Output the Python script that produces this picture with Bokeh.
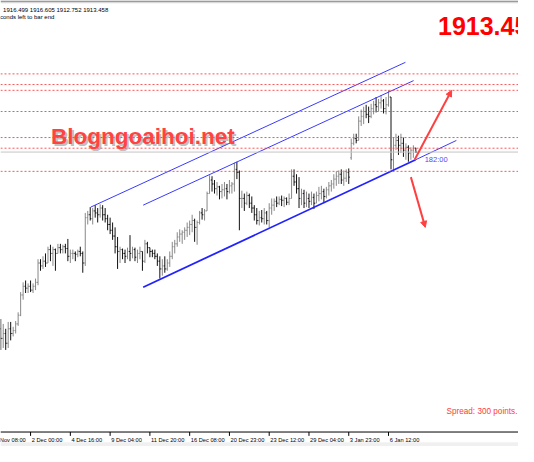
from bokeh.plotting import figure
from bokeh.models import Range1d, Span, Label, Arrow, NormalHead, ColumnDataSource, BoxAnnotation
from bokeh.embed import file_html
from bokeh.resources import INLINE

# ---------------- data (XAUUSD, H4) ----------------
bar_number = list(range(4, 172))   # bar 0 = 27 Nov 08:00, 16 bars between time labels

opens = [
    1779.1, 1771.8, 1775.5, 1768.1, 1779.1, 1775.5, 1777.7, 1782.8, 1789.4, 1804.8,
    1811.4, 1810.0, 1811.4, 1808.5, 1811.4, 1814.4, 1829.1, 1826.9, 1830.5, 1829.1,
    1839.3, 1836.4, 1839.3, 1836.4, 1840.8, 1839.3, 1841.5, 1840.1, 1834.2, 1836.4,
    1836.4, 1835.7, 1837.9, 1836.4, 1829.1, 1863.6, 1865.8, 1862.8, 1868.7, 1867.2,
    1865.8, 1870.9, 1865.8, 1862.8, 1858.4, 1854.0, 1849.6, 1841.5, 1837.9, 1839.3,
    1836.4, 1834.2, 1837.9, 1836.4, 1839.3, 1833.5, 1836.4, 1837.9, 1830.5, 1843.7,
    1840.8, 1837.9, 1836.4, 1834.2, 1830.5, 1824.6, 1826.9, 1824.6, 1829.1, 1834.2,
    1841.5, 1843.7, 1848.9, 1851.1, 1852.5, 1854.0, 1856.2, 1858.4, 1861.4, 1856.2,
    1859.9, 1867.2, 1865.8, 1868.7, 1881.9, 1892.2, 1889.2, 1885.6, 1887.0, 1883.4,
    1884.8, 1885.6, 1883.4, 1887.8, 1889.2, 1900.3, 1898.1, 1878.2, 1878.2, 1874.6,
    1880.4, 1874.6, 1870.9, 1865.8, 1861.4, 1863.6, 1862.8, 1867.2, 1861.4, 1870.9,
    1873.1, 1876.0, 1874.6, 1877.5, 1876.8, 1878.2, 1875.3, 1878.2, 1895.1, 1890.7,
    1885.6, 1878.2, 1881.9, 1874.6, 1878.2, 1876.0, 1879.0, 1874.6, 1880.4, 1881.9,
    1883.4, 1879.7, 1884.8, 1887.8, 1889.2, 1892.9, 1895.1, 1896.6, 1892.2, 1893.6,
    1898.1, 1909.1, 1920.1, 1923.7, 1922.3, 1937.0, 1940.6, 1944.3, 1942.1, 1940.6,
    1946.5, 1949.4, 1948.0, 1950.9, 1952.4, 1946.5, 1949.4, 1955.3, 1907.6, 1918.6,
    1922.3, 1918.6, 1920.1, 1914.9, 1917.1, 1912.7, 1914.9, 1916.499,
]
highs = [
    1786.5, 1782.8, 1779.1, 1784.3, 1784.3, 1780.6, 1785.0, 1791.6, 1807.0, 1814.4,
    1815.8, 1813.6, 1815.8, 1813.6, 1817.3, 1832.0, 1832.0, 1834.2, 1836.4, 1841.5,
    1843.0, 1841.5, 1840.1, 1843.7, 1843.7, 1843.0, 1843.7, 1847.4, 1839.3, 1839.3,
    1837.9, 1839.3, 1841.5, 1837.9, 1867.2, 1868.7, 1871.6, 1870.9, 1873.1, 1870.9,
    1873.8, 1873.1, 1870.9, 1865.8, 1863.6, 1859.9, 1856.2, 1848.9, 1841.5, 1840.1,
    1839.3, 1840.8, 1850.3, 1841.5, 1840.8, 1839.3, 1841.5, 1837.9, 1846.7, 1845.2,
    1840.8, 1839.3, 1839.3, 1836.4, 1834.2, 1832.0, 1834.2, 1832.0, 1837.9, 1845.2,
    1846.7, 1852.5, 1854.7, 1854.0, 1856.2, 1859.9, 1861.4, 1865.8, 1862.8, 1861.4,
    1868.7, 1870.9, 1870.2, 1883.4, 1895.8, 1895.1, 1892.2, 1890.7, 1887.8, 1889.2,
    1890.7, 1889.2, 1892.2, 1890.7, 1905.4, 1906.1, 1899.5, 1884.1, 1881.9, 1883.4,
    1881.9, 1879.7, 1873.1, 1870.9, 1868.7, 1869.4, 1870.9, 1868.7, 1874.6, 1878.2,
    1878.2, 1879.7, 1879.7, 1880.4, 1879.7, 1879.0, 1881.9, 1900.3, 1900.3, 1896.6,
    1894.4, 1885.6, 1884.8, 1883.4, 1881.9, 1883.4, 1881.9, 1883.4, 1887.0, 1887.8,
    1885.6, 1887.0, 1890.7, 1892.2, 1896.6, 1898.8, 1899.5, 1900.3, 1899.5, 1900.3,
    1901.0, 1923.7, 1927.4, 1927.4, 1940.6, 1945.8, 1948.0, 1949.4, 1948.0, 1950.2,
    1952.4, 1955.3, 1953.8, 1956.8, 1953.8, 1955.3, 1960.4, 1955.3, 1924.5, 1927.4,
    1925.9, 1927.4, 1924.5, 1920.1, 1918.6, 1917.1, 1918.6, 1916.605,
]
lows = [
    1763.0, 1764.5, 1763.0, 1764.5, 1770.3, 1773.3, 1775.5, 1781.3, 1788.7, 1801.2,
    1806.3, 1806.3, 1807.0, 1806.3, 1808.5, 1812.2, 1823.2, 1824.6, 1826.1, 1829.1,
    1830.5, 1826.9, 1823.2, 1836.4, 1836.4, 1836.4, 1836.4, 1830.5, 1829.1, 1832.0,
    1830.5, 1833.5, 1834.2, 1821.7, 1826.9, 1858.4, 1861.4, 1858.4, 1863.6, 1859.9,
    1863.6, 1861.4, 1859.9, 1854.0, 1851.1, 1846.7, 1836.4, 1824.6, 1829.1, 1832.0,
    1829.1, 1832.0, 1830.5, 1832.7, 1830.5, 1829.1, 1832.0, 1823.2, 1829.1, 1836.4,
    1833.5, 1833.5, 1832.0, 1826.9, 1817.3, 1819.5, 1821.7, 1823.2, 1826.1, 1832.0,
    1836.4, 1841.5, 1845.2, 1843.7, 1846.7, 1848.9, 1850.3, 1852.5, 1845.2, 1843.0,
    1858.4, 1862.1, 1861.4, 1868.7, 1881.9, 1883.4, 1881.9, 1880.4, 1877.5, 1878.2,
    1879.7, 1877.5, 1881.9, 1881.9, 1883.4, 1892.9, 1854.0, 1870.9, 1868.7, 1873.1,
    1870.9, 1867.2, 1861.4, 1858.4, 1857.7, 1859.9, 1858.4, 1858.4, 1856.2, 1865.8,
    1868.7, 1871.6, 1873.1, 1872.4, 1871.6, 1873.1, 1873.1, 1878.2, 1887.8, 1881.9,
    1870.9, 1873.1, 1870.9, 1871.6, 1870.9, 1873.1, 1870.2, 1874.6, 1876.0, 1877.5,
    1874.6, 1878.2, 1880.4, 1883.4, 1885.6, 1887.8, 1889.2, 1889.2, 1887.8, 1890.7,
    1889.2, 1907.6, 1918.6, 1920.1, 1922.3, 1933.3, 1934.7, 1939.2, 1935.5, 1939.2,
    1942.1, 1943.6, 1944.3, 1946.5, 1942.8, 1942.1, 1948.0, 1900.3, 1898.8, 1914.9,
    1911.3, 1912.7, 1909.8, 1907.6, 1906.1, 1907.6, 1909.1, 1912.752,
]
closes = [
    1771.8, 1775.5, 1768.1, 1779.1, 1775.5, 1777.7, 1782.8, 1789.4, 1804.8, 1811.4,
    1810.0, 1811.4, 1808.5, 1811.4, 1814.4, 1829.1, 1826.9, 1830.5, 1829.1, 1839.3,
    1836.4, 1839.3, 1836.4, 1840.8, 1839.3, 1841.5, 1840.1, 1834.2, 1836.4, 1836.4,
    1835.7, 1837.9, 1836.4, 1829.1, 1863.6, 1865.8, 1862.8, 1868.7, 1867.2, 1865.8,
    1870.9, 1865.8, 1862.8, 1858.4, 1854.0, 1849.6, 1841.5, 1837.9, 1839.3, 1836.4,
    1834.2, 1837.9, 1836.4, 1839.3, 1833.5, 1836.4, 1837.9, 1830.5, 1843.7, 1840.8,
    1837.9, 1836.4, 1834.2, 1830.5, 1824.6, 1826.9, 1824.6, 1829.1, 1834.2, 1841.5,
    1843.7, 1848.9, 1851.1, 1852.5, 1854.0, 1856.2, 1858.4, 1861.4, 1856.2, 1859.9,
    1867.2, 1865.8, 1868.7, 1881.9, 1892.2, 1889.2, 1885.6, 1887.0, 1883.4, 1884.8,
    1885.6, 1883.4, 1887.8, 1889.2, 1900.3, 1898.1, 1878.2, 1878.2, 1874.6, 1880.4,
    1874.6, 1870.9, 1865.8, 1861.4, 1863.6, 1862.8, 1867.2, 1861.4, 1870.9, 1873.1,
    1876.0, 1874.6, 1877.5, 1876.8, 1878.2, 1875.3, 1878.2, 1895.1, 1890.7, 1885.6,
    1878.2, 1881.9, 1874.6, 1878.2, 1876.0, 1879.0, 1874.6, 1880.4, 1881.9, 1883.4,
    1879.7, 1884.8, 1887.8, 1889.2, 1892.9, 1895.1, 1896.6, 1892.2, 1893.6, 1898.1,
    1894.4, 1920.1, 1923.7, 1922.3, 1937.0, 1940.6, 1944.3, 1942.1, 1940.6, 1946.5,
    1949.4, 1948.0, 1950.9, 1952.4, 1946.5, 1949.4, 1955.3, 1907.6, 1918.6, 1922.3,
    1918.6, 1920.1, 1914.9, 1917.1, 1912.7, 1914.9, 1916.499, 1913.458,
]
assert len(opens) == len(highs) == len(lows) == len(closes) == len(bar_number), \
    (len(opens), len(highs), len(lows), len(closes), len(bar_number))

level_prices = [1972.9, 1964.8, 1960.4, 1944.3, 1924.5, 1916.4, 1898.8]

upper_outer_bars, upper_outer_prices = [40.2, 166.8], [1871.6, 1981.7]
upper_inner_bars, upper_inner_prices = [61.3, 170.1], [1873.1, 1967.8]
lower_bars, lower_prices = [61.3, 170.9], [1810.7, 1907.6]
lower_ext_bars, lower_ext_prices = [170.9, 187.3], [1907.6, 1922.3]

arrow_up_bars, arrow_up_prices = [170.5, 185.4], [1907.6, 1960.4]
arrow_down_bars, arrow_down_prices = [169.0, 174.8], [1894.4, 1856.2]

label_bars = [0, 16, 32, 48, 64, 80, 96, 112, 128, 144, 160]
label_texts = ["27 Nov 08:00", "2 Dec 00:00", "4 Dec 16:00", "9 Dec 04:00", "11 Dec 20:00",
               "16 Dec 08:00", "20 Dec 23:00", "23 Dec 12:00", "29 Dec 04:00",
               "3 Jan 23:00", "6 Jan 12:00"]

spread_points = 300
countdown = "182:00"
watermark = "Blogngoaihoi.net"

# ---------------- layout helpers (reference pixel -> data) ----------------
def kx(px):
    return (px + 10) / 2.5625

def py(px):
    return 2028.7 - 0.734 * px

FONT = "Liberation Sans"

p = figure(width=518, height=446, output_backend="svg", toolbar_location=None,
           x_range=Range1d(kx(0), kx(534)), y_range=Range1d(py(462), py(0)),
           x_axis_location=None, y_axis_location=None,
           min_border_left=0, min_border_right=0, min_border_top=0, min_border_bottom=0)
p.xgrid.visible = False
p.ygrid.visible = False
p.outline_line_color = None
p.background_fill_color = "white"
p.border_fill_color = "white"

# top border
p.add_layout(Span(location=py(0.6), dimension="width", line_color="#7a7a7a", line_width=1.2))
p.add_layout(Span(location=py(2.3), dimension="width", line_color="#cfcfcf", line_width=1))

# level lines
for lv in level_prices:
    p.add_layout(Span(location=lv, dimension="width", line_color="#ff3535",
                      line_dash="2 2", line_width=1, line_alpha=0.85))
# current price line
p.add_layout(Span(location=closes[-1], dimension="width", line_color="#c4c4c4", line_width=1))

# OHLC bars
colors = ["#888888" if c >= o else "#111111" for o, c in zip(opens, closes)]
src = ColumnDataSource(dict(
    x=bar_number, xl=[b - 0.42 for b in bar_number], xr=[b + 0.42 for b in bar_number],
    o=opens, h=highs, l=lows, c=closes, color=colors))
p.segment(x0="x", y0="l", x1="x", y1="h", line_color="color", line_width=1, source=src)
p.segment(x0="xl", y0="o", x1="x", y1="o", line_color="color", line_width=1, source=src)
p.segment(x0="x", y0="c", x1="xr", y1="c", line_color="color", line_width=1, source=src)

# channel lines
p.line(upper_outer_bars, upper_outer_prices, line_color="#3a3aff", line_width=1)
p.line(upper_inner_bars, upper_inner_prices, line_color="#3a3aff", line_width=1)
p.line(lower_bars, lower_prices, line_color="#2222ff", line_width=1.8)
p.line(lower_ext_bars, lower_ext_prices, line_color="#3a3aff", line_width=1)

# arrows
for xs, ys in [(arrow_up_bars, arrow_up_prices), (arrow_down_bars, arrow_down_prices)]:
    p.add_layout(Arrow(end=NormalHead(size=6, fill_color="#ff4040", line_color="#ff4040"),
                       x_start=xs[0], y_start=ys[0], x_end=xs[1], y_end=ys[1],
                       line_color="#ff4040", line_width=2))

# time axis (MT4 style: line, ticks, labels starting at tick)
p.add_layout(BoxAnnotation(bottom=py(462), top=py(457.5), fill_color="#f0f0f0",
                           fill_alpha=1, line_color=None))
p.add_layout(Span(location=py(447), dimension="width", line_color="black", line_width=1))
p.segment(x0=label_bars, y0=[py(447)] * len(label_bars), x1=label_bars,
          y1=[py(451)] * len(label_bars), line_color="black", line_width=1)
for b, t in zip(label_bars, label_texts):
    p.add_layout(Label(x=b + 0.45, y=py(455.6), text=t, text_font=FONT,
                       text_font_size="5.7px", text_color="black",
                       text_align="left", text_baseline="alphabetic"))

# texts
header = f"{opens[-1]:.3f} {highs[-1]:.3f} {lows[-1]:.3f} {closes[-1]:.3f}"
p.add_layout(Label(x=kx(2.7), y=py(9.6), text=header, text_font=FONT, text_font_size="6px",
                   text_color="black", text_baseline="alphabetic"))
p.add_layout(Label(x=kx(-0.5), y=py(17.2), text="conds left to bar end", text_font=FONT,
                   text_font_size="6px", text_color="black", text_baseline="alphabetic"))

price_txt = f"{int(closes[-1] * 100) / 100:.2f}"
p.add_layout(Label(x=kx(451), y=py(26.8), text=price_txt, text_font=FONT,
                   text_font_size="25px", text_font_style="bold", text_color="#ff0000",
                   text_baseline="alphabetic"))

p.add_layout(Label(x=kx(54), y=py(142.5), text=watermark, text_font=FONT,
                   text_font_size="22.5px", text_font_style="bold", text_color="#707070",
                   text_alpha=0.45, text_baseline="alphabetic"))
p.add_layout(Label(x=kx(52), y=py(140.5), text=watermark, text_font=FONT,
                   text_font_size="22.5px", text_font_style="bold", text_color="#ff4343",
                   text_baseline="alphabetic"))

p.add_layout(Label(x=kx(437.3), y=py(165.2), text=countdown, text_font=FONT,
                   text_font_size="7.5px", text_color="#4a4aff", text_baseline="alphabetic"))

p.add_layout(Label(x=kx(459.7), y=py(425.7), text=f"Spread: {spread_points} points.",
                   text_font=FONT, text_font_size="8.2px", text_color="#ff3b3b",
                   text_baseline="alphabetic"))

open("out.html", "w").write(file_html(p, INLINE))
